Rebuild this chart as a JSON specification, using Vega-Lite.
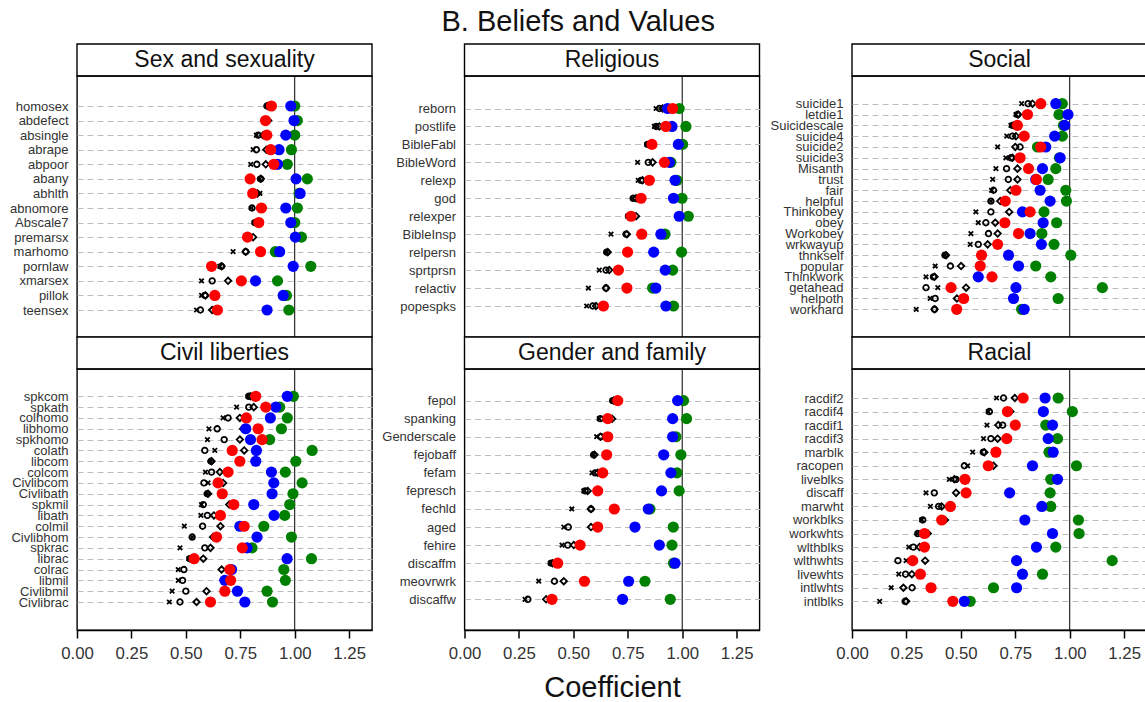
{
"$schema": "https://vega.github.io/schema/vega-lite/v6.json",
"padding": {"left": 8, "top": 8, "right": 0, "bottom": 0},
"title": {"text": "B. Beliefs and Values", "fontSize": 29, "fontWeight": "normal", "color": "#111", "anchor": "middle", "offset": 6},
"datasets": {"coef": [
{"panel":"Sex and sexuality","item":"homosex","M1":0.870,"M2":0.873,"M3":0.876,"M4":0.893,"M5":0.982,"M6":1.000},
{"panel":"Sex and sexuality","item":"abdefect","M1":0.862,"M2":0.862,"M3":0.878,"M4":0.866,"M5":0.997,"M6":1.012},
{"panel":"Sex and sexuality","item":"absingle","M1":0.824,"M2":0.832,"M3":0.855,"M4":0.872,"M5":0.959,"M6":1.000},
{"panel":"Sex and sexuality","item":"abrape","M1":0.809,"M2":0.824,"M3":0.870,"M4":0.890,"M5":0.928,"M6":0.985},
{"panel":"Sex and sexuality","item":"abpoor","M1":0.798,"M2":0.826,"M3":0.867,"M4":0.904,"M5":0.921,"M6":0.966},
{"panel":"Sex and sexuality","item":"abany","M1":0.840,"M2":0.844,"M3":0.844,"M4":0.795,"M5":1.006,"M6":1.058},
{"panel":"Sex and sexuality","item":"abhlth","M1":0.840,"M2":0.824,"M3":0.829,"M4":0.807,"M5":1.025,"M6":1.020},
{"panel":"Sex and sexuality","item":"abnomore","M1":0.801,"M2":0.804,"M3":0.855,"M4":0.847,"M5":0.959,"M6":1.012},
{"panel":"Sex and sexuality","item":"Abscale7","M1":0.814,"M2":0.817,"M3":0.824,"M4":0.835,"M5":0.982,"M6":1.000},
{"panel":"Sex and sexuality","item":"premarsx","M1":0.786,"M2":0.789,"M3":0.809,"M4":0.783,"M5":1.003,"M6":1.031},
{"panel":"Sex and sexuality","item":"marhomo","M1":0.717,"M2":0.775,"M3":0.775,"M4":0.843,"M5":0.931,"M6":0.911},
{"panel":"Sex and sexuality","item":"pornlaw","M1":0.656,"M2":0.664,"M3":0.664,"M4":0.618,"M5":0.993,"M6":1.074},
{"panel":"Sex and sexuality","item":"xmarsex","M1":0.572,"M2":0.621,"M3":0.694,"M4":0.755,"M5":0.820,"M6":0.921},
{"panel":"Sex and sexuality","item":"pillok","M1":0.572,"M2":0.587,"M3":0.590,"M4":0.633,"M5":0.947,"M6":0.962},
{"panel":"Sex and sexuality","item":"teensex","M1":0.549,"M2":0.567,"M3":0.621,"M4":0.645,"M5":0.873,"M6":0.973},
{"panel":"Religious","item":"reborn","M1":0.880,"M2":0.895,"M3":0.910,"M4":0.956,"M5":0.933,"M6":0.986},
{"panel":"Religious","item":"postlife","M1":0.872,"M2":0.880,"M3":0.895,"M4":0.925,"M5":0.953,"M6":1.017},
{"panel":"Religious","item":"BibleFabl","M1":0.838,"M2":0.841,"M3":0.849,"M4":0.861,"M5":0.982,"M6":1.002},
{"panel":"Religious","item":"BibleWord","M1":0.795,"M2":0.844,"M3":0.864,"M4":0.918,"M5":0.941,"M6":0.948},
{"panel":"Religious","item":"relexp","M1":0.798,"M2":0.811,"M3":0.818,"M4":0.849,"M5":0.967,"M6":0.976},
{"panel":"Religious","item":"god","M1":0.772,"M2":0.775,"M3":0.788,"M4":0.811,"M5":0.960,"M6":0.999},
{"panel":"Religious","item":"relexper","M1":0.750,"M2":0.753,"M3":0.788,"M4":0.765,"M5":0.986,"M6":1.028},
{"panel":"Religious","item":"BibleInsp","M1":0.673,"M2":0.742,"M3":0.746,"M4":0.814,"M5":0.902,"M6":0.921},
{"panel":"Religious","item":"relpersn","M1":0.653,"M2":0.653,"M3":0.658,"M4":0.749,"M5":0.869,"M6":0.997},
{"panel":"Religious","item":"sprtprsn","M1":0.619,"M2":0.650,"M3":0.665,"M4":0.707,"M5":0.922,"M6":0.956},
{"panel":"Religious","item":"relactiv","M1":0.569,"M2":0.650,"M3":0.650,"M4":0.746,"M5":0.879,"M6":0.864},
{"panel":"Religious","item":"popespks","M1":0.561,"M2":0.589,"M3":0.604,"M4":0.638,"M5":0.925,"M6":0.960},
{"panel":"Social","item":"suicide1","M1":0.779,"M2":0.809,"M3":0.829,"M4":0.867,"M5":0.936,"M6":0.966},
{"panel":"Social","item":"letdie1","M1":0.753,"M2":0.760,"M3":0.763,"M4":0.806,"M5":0.992,"M6":0.951},
{"panel":"Social","item":"Suicidescale","M1":0.730,"M2":0.737,"M3":0.745,"M4":0.760,"M5":0.977,"M6":0.971},
{"panel":"Social","item":"suicide4","M1":0.711,"M2":0.737,"M3":0.753,"M4":0.791,"M5":0.931,"M6":0.966},
{"panel":"Social","item":"suicide2","M1":0.669,"M2":0.772,"M3":0.750,"M4":0.867,"M5":0.890,"M6":0.852},
{"panel":"Social","item":"suicide3","M1":0.707,"M2":0.730,"M3":0.737,"M4":0.772,"M5":0.956,"M6":0.953},
{"panel":"Social","item":"Misanth","M1":0.661,"M2":0.710,"M3":0.760,"M4":0.811,"M5":0.875,"M6":0.936},
{"panel":"Social","item":"trust","M1":0.646,"M2":0.718,"M3":0.760,"M4":0.847,"M5":0.844,"M6":0.901},
{"panel":"Social","item":"fair","M1":0.641,"M2":0.650,"M3":0.727,"M4":0.753,"M5":0.864,"M6":0.982},
{"panel":"Social","item":"helpful","M1":0.638,"M2":0.638,"M3":0.681,"M4":0.704,"M5":0.910,"M6":0.985},
{"panel":"Social","item":"Thinkobey","M1":0.569,"M2":0.638,"M3":0.722,"M4":0.818,"M5":0.783,"M6":0.882},
{"panel":"Social","item":"obey","M1":0.580,"M2":0.615,"M3":0.658,"M4":0.702,"M5":0.878,"M6":0.940},
{"panel":"Social","item":"Workobey","M1":0.546,"M2":0.627,"M3":0.669,"M4":0.765,"M5":0.818,"M6":0.872},
{"panel":"Social","item":"wrkwayup","M1":0.543,"M2":0.580,"M3":0.623,"M4":0.669,"M5":0.870,"M6":0.928},
{"panel":"Social","item":"thnkself","M1":0.427,"M2":0.427,"M3":0.432,"M4":0.595,"M5":0.719,"M6":1.005},
{"panel":"Social","item":"popular","M1":0.382,"M2":0.452,"M3":0.501,"M4":0.589,"M5":0.765,"M6":0.844},
{"panel":"Social","item":"Thinkwork","M1":0.340,"M2":0.374,"M3":0.379,"M4":0.643,"M5":0.580,"M6":0.913},
{"panel":"Social","item":"getahead","M1":0.394,"M2":0.340,"M3":0.524,"M4":0.455,"M5":0.753,"M6":1.150},
{"panel":"Social","item":"helpoth","M1":0.359,"M2":0.382,"M3":0.482,"M4":0.513,"M5":0.742,"M6":0.947},
{"panel":"Social","item":"workhard","M1":0.295,"M2":0.379,"M3":0.379,"M4":0.481,"M5":0.791,"M6":0.779},
{"panel":"Civil liberties","item":"spkcom","M1":0.786,"M2":0.789,"M3":0.798,"M4":0.821,"M5":0.966,"M6":0.994},
{"panel":"Civil liberties","item":"spkath","M1":0.733,"M2":0.789,"M3":0.812,"M4":0.867,"M5":0.913,"M6":0.931},
{"panel":"Civil liberties","item":"colhomo","M1":0.671,"M2":0.694,"M3":0.748,"M4":0.778,"M5":0.888,"M6":0.966},
{"panel":"Civil liberties","item":"libhomo","M1":0.606,"M2":0.644,"M3":0.763,"M4":0.832,"M5":0.775,"M6":0.939},
{"panel":"Civil liberties","item":"spkhomo","M1":0.599,"M2":0.676,"M3":0.748,"M4":0.850,"M5":0.797,"M6":0.885},
{"panel":"Civil liberties","item":"colath","M1":0.633,"M2":0.587,"M3":0.768,"M4":0.713,"M5":0.824,"M6":1.080},
{"panel":"Civil liberties","item":"libcom","M1":0.615,"M2":0.615,"M3":0.618,"M4":0.748,"M5":0.821,"M6":1.005},
{"panel":"Civil liberties","item":"colcom","M1":0.590,"M2":0.618,"M3":0.656,"M4":0.694,"M5":0.893,"M6":0.957},
{"panel":"Civil liberties","item":"Civlibcom","M1":0.602,"M2":0.583,"M3":0.671,"M4":0.648,"M5":0.904,"M6":1.034},
{"panel":"Civil liberties","item":"Civlibath","M1":0.598,"M2":0.598,"M3":0.602,"M4":0.667,"M5":0.896,"M6":0.992},
{"panel":"Civil liberties","item":"spkmil","M1":0.572,"M2":0.580,"M3":0.699,"M4":0.720,"M5":0.812,"M6":0.977},
{"panel":"Civil liberties","item":"libath","M1":0.569,"M2":0.599,"M3":0.629,"M4":0.659,"M5":0.905,"M6":0.954},
{"panel":"Civil liberties","item":"colmil","M1":0.493,"M2":0.577,"M3":0.659,"M4":0.768,"M5":0.748,"M6":0.858},
{"panel":"Civil liberties","item":"Civlibhom","M1":0.529,"M2":0.529,"M3":0.625,"M4":0.641,"M5":0.827,"M6":0.985},
{"panel":"Civil liberties","item":"spkrac","M1":0.473,"M2":0.587,"M3":0.613,"M4":0.759,"M5":0.781,"M6":0.804},
{"panel":"Civil liberties","item":"librac","M1":0.514,"M2":0.518,"M3":0.580,"M4":0.538,"M5":0.965,"M6":1.077},
{"panel":"Civil liberties","item":"colrac","M1":0.465,"M2":0.491,"M3":0.664,"M4":0.702,"M5":0.710,"M6":0.950},
{"panel":"Civil liberties","item":"libmil","M1":0.465,"M2":0.485,"M3":0.674,"M4":0.706,"M5":0.679,"M6":0.957},
{"panel":"Civil liberties","item":"Civlibmil","M1":0.437,"M2":0.500,"M3":0.595,"M4":0.679,"M5":0.737,"M6":0.873},
{"panel":"Civil liberties","item":"Civlibrac","M1":0.424,"M2":0.473,"M3":0.549,"M4":0.613,"M5":0.771,"M6":0.898},
{"panel":"Gender and family","item":"fepol","M1":0.678,"M2":0.681,"M3":0.685,"M4":0.704,"M5":0.979,"M6":1.006},
{"panel":"Gender and family","item":"spanking","M1":0.619,"M2":0.624,"M3":0.678,"M4":0.658,"M5":0.956,"M6":1.020},
{"panel":"Gender and family","item":"Genderscale","M1":0.607,"M2":0.627,"M3":0.624,"M4":0.658,"M5":0.956,"M6":0.971},
{"panel":"Gender and family","item":"fejobaff","M1":0.593,"M2":0.593,"M3":0.597,"M4":0.653,"M5":0.915,"M6":0.994},
{"panel":"Gender and family","item":"fefam","M1":0.586,"M2":0.600,"M3":0.612,"M4":0.635,"M5":0.948,"M6":0.976},
{"panel":"Gender and family","item":"fepresch","M1":0.548,"M2":0.554,"M3":0.566,"M4":0.612,"M5":0.905,"M6":0.986},
{"panel":"Gender and family","item":"fechld","M1":0.493,"M2":0.581,"M3":0.581,"M4":0.688,"M5":0.844,"M6":0.852},
{"panel":"Gender and family","item":"aged","M1":0.456,"M2":0.477,"M3":0.581,"M4":0.612,"M5":0.783,"M6":0.959},
{"panel":"Gender and family","item":"fehire","M1":0.448,"M2":0.474,"M3":0.502,"M4":0.531,"M5":0.895,"M6":0.953},
{"panel":"Gender and family","item":"discaffm","M1":0.395,"M2":0.398,"M3":0.405,"M4":0.428,"M5":0.967,"M6":0.960},
{"panel":"Gender and family","item":"meovrwrk","M1":0.341,"M2":0.413,"M3":0.456,"M4":0.551,"M5":0.754,"M6":0.829},
{"panel":"Gender and family","item":"discaffw","M1":0.278,"M2":0.291,"M3":0.375,"M4":0.402,"M5":0.726,"M6":0.945},
{"panel":"Racial","item":"racdif2","M1":0.664,"M2":0.696,"M3":0.748,"M4":0.786,"M5":0.887,"M6":0.947},
{"panel":"Racial","item":"racdif4","M1":0.626,"M2":0.631,"M3":0.727,"M4":0.714,"M5":0.879,"M6":1.012},
{"panel":"Racial","item":"racdif1","M1":0.620,"M2":0.692,"M3":0.672,"M4":0.750,"M5":0.921,"M6":0.890},
{"panel":"Racial","item":"racdif3","M1":0.604,"M2":0.638,"M3":0.669,"M4":0.711,"M5":0.901,"M6":0.944},
{"panel":"Racial","item":"marblk","M1":0.554,"M2":0.603,"M3":0.608,"M4":0.661,"M5":0.924,"M6":0.905},
{"panel":"Racial","item":"racopen","M1":0.531,"M2":0.516,"M3":0.650,"M4":0.626,"M5":0.829,"M6":1.031},
{"panel":"Racial","item":"liveblks","M1":0.447,"M2":0.478,"M3":0.470,"M4":0.519,"M5":0.944,"M6":0.913},
{"panel":"Racial","item":"discaff","M1":0.340,"M2":0.378,"M3":0.478,"M4":0.524,"M5":0.724,"M6":0.910},
{"panel":"Racial","item":"marwht","M1":0.360,"M2":0.398,"M3":0.412,"M4":0.452,"M5":0.872,"M6":0.913},
{"panel":"Racial","item":"workblks","M1":0.320,"M2":0.325,"M3":0.427,"M4":0.412,"M5":0.794,"M6":1.040},
{"panel":"Racial","item":"workwhts","M1":0.300,"M2":0.302,"M3":0.348,"M4":0.333,"M5":0.921,"M6":1.043},
{"panel":"Racial","item":"wlthblks","M1":0.261,"M2":0.282,"M3":0.310,"M4":0.333,"M5":0.847,"M6":0.936},
{"panel":"Racial","item":"wlthwhts","M1":0.249,"M2":0.211,"M3":0.336,"M4":0.279,"M5":0.756,"M6":1.195},
{"panel":"Racial","item":"livewhts","M1":0.215,"M2":0.246,"M3":0.275,"M4":0.314,"M5":0.783,"M6":0.875},
{"panel":"Racial","item":"intlwhts","M1":0.180,"M2":0.276,"M3":0.236,"M4":0.363,"M5":0.756,"M6":0.650},
{"panel":"Racial","item":"intlblks","M1":0.127,"M2":0.244,"M3":0.249,"M4":0.463,"M5":0.516,"M6":0.543}
]},
"columns": 3,
"spacing": {"row": 0, "column": 92.5},
"bounds": "flush",
"align": "each",
"concat": [
{"width": 295, "height": 32, "data": {"values": [{"t": "Sex and sexuality"}]}, "layer": [{"mark": {"type": "rect", "fill": "#fff", "stroke": "#000", "strokeWidth": 1.4}, "encoding": {}}, {"mark": {"type": "text", "fontSize": 23, "color": "#111"}, "encoding": {"text": {"field": "t"}}}]},
{"width": 295, "height": 32, "data": {"values": [{"t": "Religious"}]}, "layer": [{"mark": {"type": "rect", "fill": "#fff", "stroke": "#000", "strokeWidth": 1.4}, "encoding": {}}, {"mark": {"type": "text", "fontSize": 23, "color": "#111"}, "encoding": {"text": {"field": "t"}}}]},
{"width": 295, "height": 32, "data": {"values": [{"t": "Social"}]}, "layer": [{"mark": {"type": "rect", "fill": "#fff", "stroke": "#000", "strokeWidth": 1.4}, "encoding": {}}, {"mark": {"type": "text", "fontSize": 23, "color": "#111"}, "encoding": {"text": {"field": "t"}}}]},
{"width": 295, "height": 261,
 "encoding": {"x": {"field": "value", "type": "quantitative", "scale": {"domain": [0, 1.355], "nice": false, "zero": false}, "axis": null}},
 "layer": [
  {"data": {"values": [{"value": 1}]}, "mark": {"type": "rule", "color": "#000", "strokeWidth": 1}, "encoding": {}},
  {"data": {"name": "coef"}, "transform": [{"filter": {"field": "panel", "equal": "Sex and sexuality"}}, {"fold": ["M1","M2","M3"], "as": ["series","value"]}],
   "mark": {"type": "point", "filled": false, "color": "#000", "strokeWidth": 1.8, "opacity": 1},
   "encoding": {"y": {"field": "item", "type": "nominal", "sort": null, "title": null, "scale": {"padding": 0, "range": [30, 234]}},
    "shape": {"field": "series", "type": "nominal", "scale": {"domain": ["M1","M2","M3"], "range": ["M-1,-1L1,1M1,-1L-1,1", "circle", "diamond"]}, "legend": null},
    "size": {"field": "series", "type": "ordinal", "scale": {"domain": ["M1","M2","M3"], "range": [20, 42, 80]}, "legend": null}}},
  {"data": {"name": "coef"}, "transform": [{"filter": {"field": "panel", "equal": "Sex and sexuality"}}, {"fold": ["M6","M5","M4"], "as": ["series","value"]}],
   "mark": {"type": "circle", "size": 125, "opacity": 1},
   "encoding": {"y": {"field": "item", "type": "nominal", "sort": null, "title": null, "scale": {"padding": 0, "range": [30, 234]}},
    "color": {"field": "series", "type": "nominal", "scale": {"domain": ["M4","M5","M6"], "range": ["#ff0000","#0000ff","#008000"]}, "legend": null}}}
 ]},
{"width": 295, "height": 261,
 "encoding": {"x": {"field": "value", "type": "quantitative", "scale": {"domain": [0, 1.355], "nice": false, "zero": false}, "axis": null}},
 "layer": [
  {"data": {"values": [{"value": 1}]}, "mark": {"type": "rule", "color": "#000", "strokeWidth": 1}, "encoding": {}},
  {"data": {"name": "coef"}, "transform": [{"filter": {"field": "panel", "equal": "Religious"}}, {"fold": ["M1","M2","M3"], "as": ["series","value"]}],
   "mark": {"type": "point", "filled": false, "color": "#000", "strokeWidth": 1.8, "opacity": 1},
   "encoding": {"y": {"field": "item", "type": "nominal", "sort": null, "title": null, "scale": {"padding": 0, "range": [32.5, 230]}},
    "shape": {"field": "series", "type": "nominal", "scale": {"domain": ["M1","M2","M3"], "range": ["M-1,-1L1,1M1,-1L-1,1", "circle", "diamond"]}, "legend": null},
    "size": {"field": "series", "type": "ordinal", "scale": {"domain": ["M1","M2","M3"], "range": [20, 42, 80]}, "legend": null}}},
  {"data": {"name": "coef"}, "transform": [{"filter": {"field": "panel", "equal": "Religious"}}, {"fold": ["M6","M5","M4"], "as": ["series","value"]}],
   "mark": {"type": "circle", "size": 125, "opacity": 1},
   "encoding": {"y": {"field": "item", "type": "nominal", "sort": null, "title": null, "scale": {"padding": 0, "range": [32.5, 230]}},
    "color": {"field": "series", "type": "nominal", "scale": {"domain": ["M4","M5","M6"], "range": ["#ff0000","#0000ff","#008000"]}, "legend": null}}}
 ]},
{"width": 295, "height": 261,
 "encoding": {"x": {"field": "value", "type": "quantitative", "scale": {"domain": [0, 1.355], "nice": false, "zero": false}, "axis": null}},
 "layer": [
  {"data": {"values": [{"value": 1}]}, "mark": {"type": "rule", "color": "#000", "strokeWidth": 1}, "encoding": {}},
  {"data": {"name": "coef"}, "transform": [{"filter": {"field": "panel", "equal": "Social"}}, {"fold": ["M1","M2","M3"], "as": ["series","value"]}],
   "mark": {"type": "point", "filled": false, "color": "#000", "strokeWidth": 1.8, "opacity": 1},
   "encoding": {"y": {"field": "item", "type": "nominal", "sort": null, "title": null, "scale": {"padding": 0, "range": [27.7, 233.3]}},
    "shape": {"field": "series", "type": "nominal", "scale": {"domain": ["M1","M2","M3"], "range": ["M-1,-1L1,1M1,-1L-1,1", "circle", "diamond"]}, "legend": null},
    "size": {"field": "series", "type": "ordinal", "scale": {"domain": ["M1","M2","M3"], "range": [20, 42, 80]}, "legend": null}}},
  {"data": {"name": "coef"}, "transform": [{"filter": {"field": "panel", "equal": "Social"}}, {"fold": ["M6","M5","M4"], "as": ["series","value"]}],
   "mark": {"type": "circle", "size": 125, "opacity": 1},
   "encoding": {"y": {"field": "item", "type": "nominal", "sort": null, "title": null, "scale": {"padding": 0, "range": [27.7, 233.3]}},
    "color": {"field": "series", "type": "nominal", "scale": {"domain": ["M4","M5","M6"], "range": ["#ff0000","#0000ff","#008000"]}, "legend": null}}}
 ]},
{"width": 295, "height": 32, "data": {"values": [{"t": "Civil liberties"}]}, "layer": [{"mark": {"type": "rect", "fill": "#fff", "stroke": "#000", "strokeWidth": 1.4}, "encoding": {}}, {"mark": {"type": "text", "fontSize": 23, "color": "#111"}, "encoding": {"text": {"field": "t"}}}]},
{"width": 295, "height": 32, "data": {"values": [{"t": "Gender and family"}]}, "layer": [{"mark": {"type": "rect", "fill": "#fff", "stroke": "#000", "strokeWidth": 1.4}, "encoding": {}}, {"mark": {"type": "text", "fontSize": 23, "color": "#111"}, "encoding": {"text": {"field": "t"}}}]},
{"width": 295, "height": 32, "data": {"values": [{"t": "Racial"}]}, "layer": [{"mark": {"type": "rect", "fill": "#fff", "stroke": "#000", "strokeWidth": 1.4}, "encoding": {}}, {"mark": {"type": "text", "fontSize": 23, "color": "#111"}, "encoding": {"text": {"field": "t"}}}]},
{"width": 295, "height": 261,
 "encoding": {"x": {"field": "value", "type": "quantitative", "scale": {"domain": [0, 1.355], "nice": false, "zero": false}, "axis": {"values": [0, 0.25, 0.5, 0.75, 1, 1.25], "format": ".2f", "title": null}}},
 "layer": [
  {"data": {"values": [{"value": 1}]}, "mark": {"type": "rule", "color": "#000", "strokeWidth": 1}, "encoding": {}},
  {"data": {"name": "coef"}, "transform": [{"filter": {"field": "panel", "equal": "Civil liberties"}}, {"fold": ["M1","M2","M3"], "as": ["series","value"]}],
   "mark": {"type": "point", "filled": false, "color": "#000", "strokeWidth": 1.8, "opacity": 1},
   "encoding": {"y": {"field": "item", "type": "nominal", "sort": null, "title": null, "scale": {"padding": 0, "range": [27.3, 233]}},
    "shape": {"field": "series", "type": "nominal", "scale": {"domain": ["M1","M2","M3"], "range": ["M-1,-1L1,1M1,-1L-1,1", "circle", "diamond"]}, "legend": null},
    "size": {"field": "series", "type": "ordinal", "scale": {"domain": ["M1","M2","M3"], "range": [20, 42, 80]}, "legend": null}}},
  {"data": {"name": "coef"}, "transform": [{"filter": {"field": "panel", "equal": "Civil liberties"}}, {"fold": ["M6","M5","M4"], "as": ["series","value"]}],
   "mark": {"type": "circle", "size": 125, "opacity": 1},
   "encoding": {"y": {"field": "item", "type": "nominal", "sort": null, "title": null, "scale": {"padding": 0, "range": [27.3, 233]}},
    "color": {"field": "series", "type": "nominal", "scale": {"domain": ["M4","M5","M6"], "range": ["#ff0000","#0000ff","#008000"]}, "legend": null}}}
 ]},
{"width": 295, "height": 261,
 "encoding": {"x": {"field": "value", "type": "quantitative", "scale": {"domain": [0, 1.355], "nice": false, "zero": false}, "axis": {"values": [0, 0.25, 0.5, 0.75, 1, 1.25], "format": ".2f", "title": "Coefficient"}}},
 "layer": [
  {"data": {"values": [{"value": 1}]}, "mark": {"type": "rule", "color": "#000", "strokeWidth": 1}, "encoding": {}},
  {"data": {"name": "coef"}, "transform": [{"filter": {"field": "panel", "equal": "Gender and family"}}, {"fold": ["M1","M2","M3"], "as": ["series","value"]}],
   "mark": {"type": "point", "filled": false, "color": "#000", "strokeWidth": 1.8, "opacity": 1},
   "encoding": {"y": {"field": "item", "type": "nominal", "sort": null, "title": null, "scale": {"padding": 0, "range": [31.6, 230.3]}},
    "shape": {"field": "series", "type": "nominal", "scale": {"domain": ["M1","M2","M3"], "range": ["M-1,-1L1,1M1,-1L-1,1", "circle", "diamond"]}, "legend": null},
    "size": {"field": "series", "type": "ordinal", "scale": {"domain": ["M1","M2","M3"], "range": [20, 42, 80]}, "legend": null}}},
  {"data": {"name": "coef"}, "transform": [{"filter": {"field": "panel", "equal": "Gender and family"}}, {"fold": ["M6","M5","M4"], "as": ["series","value"]}],
   "mark": {"type": "circle", "size": 125, "opacity": 1},
   "encoding": {"y": {"field": "item", "type": "nominal", "sort": null, "title": null, "scale": {"padding": 0, "range": [31.6, 230.3]}},
    "color": {"field": "series", "type": "nominal", "scale": {"domain": ["M4","M5","M6"], "range": ["#ff0000","#0000ff","#008000"]}, "legend": null}}}
 ]},
{"width": 295, "height": 261,
 "encoding": {"x": {"field": "value", "type": "quantitative", "scale": {"domain": [0, 1.355], "nice": false, "zero": false}, "axis": {"values": [0, 0.25, 0.5, 0.75, 1, 1.25], "format": ".2f", "title": null}}},
 "layer": [
  {"data": {"values": [{"value": 1}]}, "mark": {"type": "rule", "color": "#000", "strokeWidth": 1}, "encoding": {}},
  {"data": {"name": "coef"}, "transform": [{"filter": {"field": "panel", "equal": "Racial"}}, {"fold": ["M1","M2","M3"], "as": ["series","value"]}],
   "mark": {"type": "point", "filled": false, "color": "#000", "strokeWidth": 1.8, "opacity": 1},
   "encoding": {"y": {"field": "item", "type": "nominal", "sort": null, "title": null, "scale": {"padding": 0, "range": [29, 232.3]}},
    "shape": {"field": "series", "type": "nominal", "scale": {"domain": ["M1","M2","M3"], "range": ["M-1,-1L1,1M1,-1L-1,1", "circle", "diamond"]}, "legend": null},
    "size": {"field": "series", "type": "ordinal", "scale": {"domain": ["M1","M2","M3"], "range": [20, 42, 80]}, "legend": null}}},
  {"data": {"name": "coef"}, "transform": [{"filter": {"field": "panel", "equal": "Racial"}}, {"fold": ["M6","M5","M4"], "as": ["series","value"]}],
   "mark": {"type": "circle", "size": 125, "opacity": 1},
   "encoding": {"y": {"field": "item", "type": "nominal", "sort": null, "title": null, "scale": {"padding": 0, "range": [29, 232.3]}},
    "color": {"field": "series", "type": "nominal", "scale": {"domain": ["M4","M5","M6"], "range": ["#ff0000","#0000ff","#008000"]}, "legend": null}}}
 ]}
],
"config": {
 "font": "Liberation Sans",
 "view": {"stroke": "#000", "strokeWidth": 1.4},
 "axisY": {"ticks": false, "domain": false, "labelPadding": 9, "grid": true, "gridDash": [6, 4], "gridColor": "#bdbdbd", "gridWidth": 1, "labelFontSize": 13, "labelColor": "#333", "labelLimit": 200},
 "axisX": {"grid": false, "ticks": true, "tickSize": 8, "tickWidth": 1.5, "tickColor": "#000", "domainColor": "#000", "domainWidth": 1.4, "labelFontSize": 16.8, "labelColor": "#333", "labelPadding": 7, "labelFlush": false, "labelOverlap": false, "titleFontSize": 29, "titleFontWeight": "normal", "titleColor": "#111", "titlePadding": 12}
}
}
